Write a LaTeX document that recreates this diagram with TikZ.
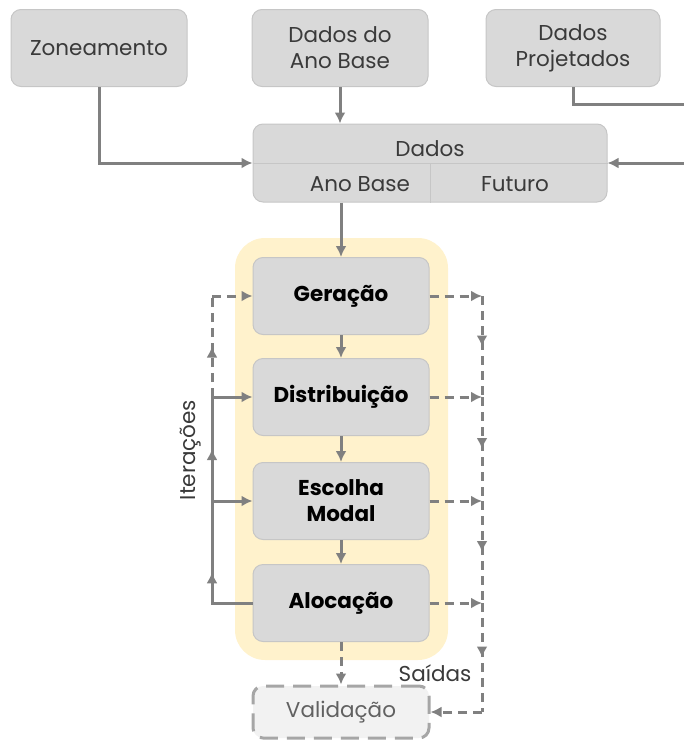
\documentclass[tikz,border=0pt]{standalone}
\usepackage{fontspec}
\setmainfont{Poppins}
\usetikzlibrary{arrows.meta, decorations.markings}

\definecolor{caixacinza}{HTML}{D9D9D9}
\definecolor{bordacinza}{HTML}{C6C6C6}
\definecolor{linhacinza}{HTML}{808080}
\definecolor{textocinza}{HTML}{3A3A3A}
\definecolor{amarelo}{HTML}{FFF2CC}
\definecolor{valfundo}{HTML}{F2F2F2}
\definecolor{valborda}{HTML}{A6A6A6}

\tikzset{
    caixa/.style={draw=bordacinza, line width=1pt, fill=caixacinza, rounded corners=10pt,
        minimum width=176pt, minimum height=77pt, align=center, text=textocinza,
        font=\fontsize{21.5}{26}\selectfont},
    etapa/.style={caixa, text=black, font=\fontsize{21.5}{26}\selectfont\bfseries},
    liga/.style={draw=linhacinza, line width=3pt},
    seta/.style={liga, -{Latex[length=11pt,width=11pt]}},
    tracejada/.style={dash pattern=on 9pt off 6pt},
    meio/.style={postaction={decorate}, decoration={markings,
        mark=at position 0.5 with {\arrow{Latex[length=11pt,width=11pt]}}}}
}

\begin{document}
\begin{tikzpicture}[x=1pt, y=-1pt]
    \useasboundingbox (0,0) rectangle (684,742);
    \fill[amarelo, rounded corners=30pt] (235,238) rectangle (448,660);

    \node[caixa] (zon) at (99,48) {Zoneamento};
    \node[caixa] (base) at (340,48) {Dados do\\Ano Base};
    \node[caixa, minimum width=174pt] (proj) at (573,48) {Dados\\Projetados};

    \node[caixa, minimum width=354pt, minimum height=78pt] (dados) at (430,163) {};
    \draw[bordacinza, line width=1pt] (dados.west) -- (dados.east);
    \draw[bordacinza, line width=1pt] (dados.center) -- (dados.south);
    \node[text=textocinza, font=\fontsize{21.5}{26}\selectfont] (dadostit) at (430,149) {Dados};
    \node[text=textocinza, font=\fontsize{21.5}{26}\selectfont] (anobase) at (360,184) {Ano Base};
    \node[text=textocinza, font=\fontsize{21.5}{26}\selectfont] (futuro) at (515,184) {Futuro};

    \node[etapa] (ger) at (341,296) {Geração};
    \node[etapa] (dist) at (341,397) {Distribuição};
    \node[etapa] (esc) at (341,501) {Escolha\\Modal};
    \node[etapa] (aloc) at (341,603) {Alocação};
    \node[caixa, draw=valborda, line width=3pt, dash pattern=on 18pt off 9pt, fill=valfundo,
        text=textocinza!80, minimum height=52pt] (val) at (341,712) {Validação};

    \coordinate (pe1) at (684,104);
    \coordinate (pe2) at (684,163);
    \foreach \n/\y in {1/296, 2/397, 3/501, 4/603} {
        \coordinate (l\n) at (212,\y);
        \coordinate (r\n) at (482,\y);
    }
    \coordinate (rv) at (482,712);

    \draw[seta] (base.south) -- (base.south |- dados.north);
    \draw[seta] (zon.south) |- (dados.west);
    \draw[liga] (proj.south) |- (pe1);
    \draw[seta] (pe2) -- (dados.east);
    \draw[seta] (ger.north |- dados.south) -- (ger.north);

    \draw[seta] (ger) -- (dist);
    \draw[seta] (dist) -- (esc);
    \draw[seta] (esc) -- (aloc);
    \draw[seta, tracejada] (aloc) -- (val);

    \draw[liga, meio] (aloc.west) -| (l4) -- (l3);
    \draw[liga, meio] (l3) -- (l2);
    \draw[liga, tracejada, meio] (l2) -- (l1);
    \draw[seta, tracejada] (l1) -- (ger.west);
    \draw[seta] (l2) -- (dist.west);
    \draw[seta] (l3) -- (esc.west);

    \foreach \b/\n in {ger/1, dist/2, esc/3, aloc/4}
        \draw[seta, tracejada] (\b.east) -- (r\n);
    \draw[liga, tracejada, meio] (r1) -- (r2);
    \draw[liga, tracejada, meio] (r2) -- (r3);
    \draw[liga, tracejada, meio] (r3) -- (r4);
    \draw[liga, tracejada, meio] (r4) -- (rv);
    \draw[seta, tracejada] (rv) -- (val.east);

    \node[rotate=90, text=textocinza, font=\fontsize{21.5}{26}\selectfont] (iter) at (191,450) {Iterações};
    \node[anchor=east, text=textocinza, font=\fontsize{21.5}{26}\selectfont] (saidas) at (475,673) {Saídas};
\end{tikzpicture}
\end{document}
